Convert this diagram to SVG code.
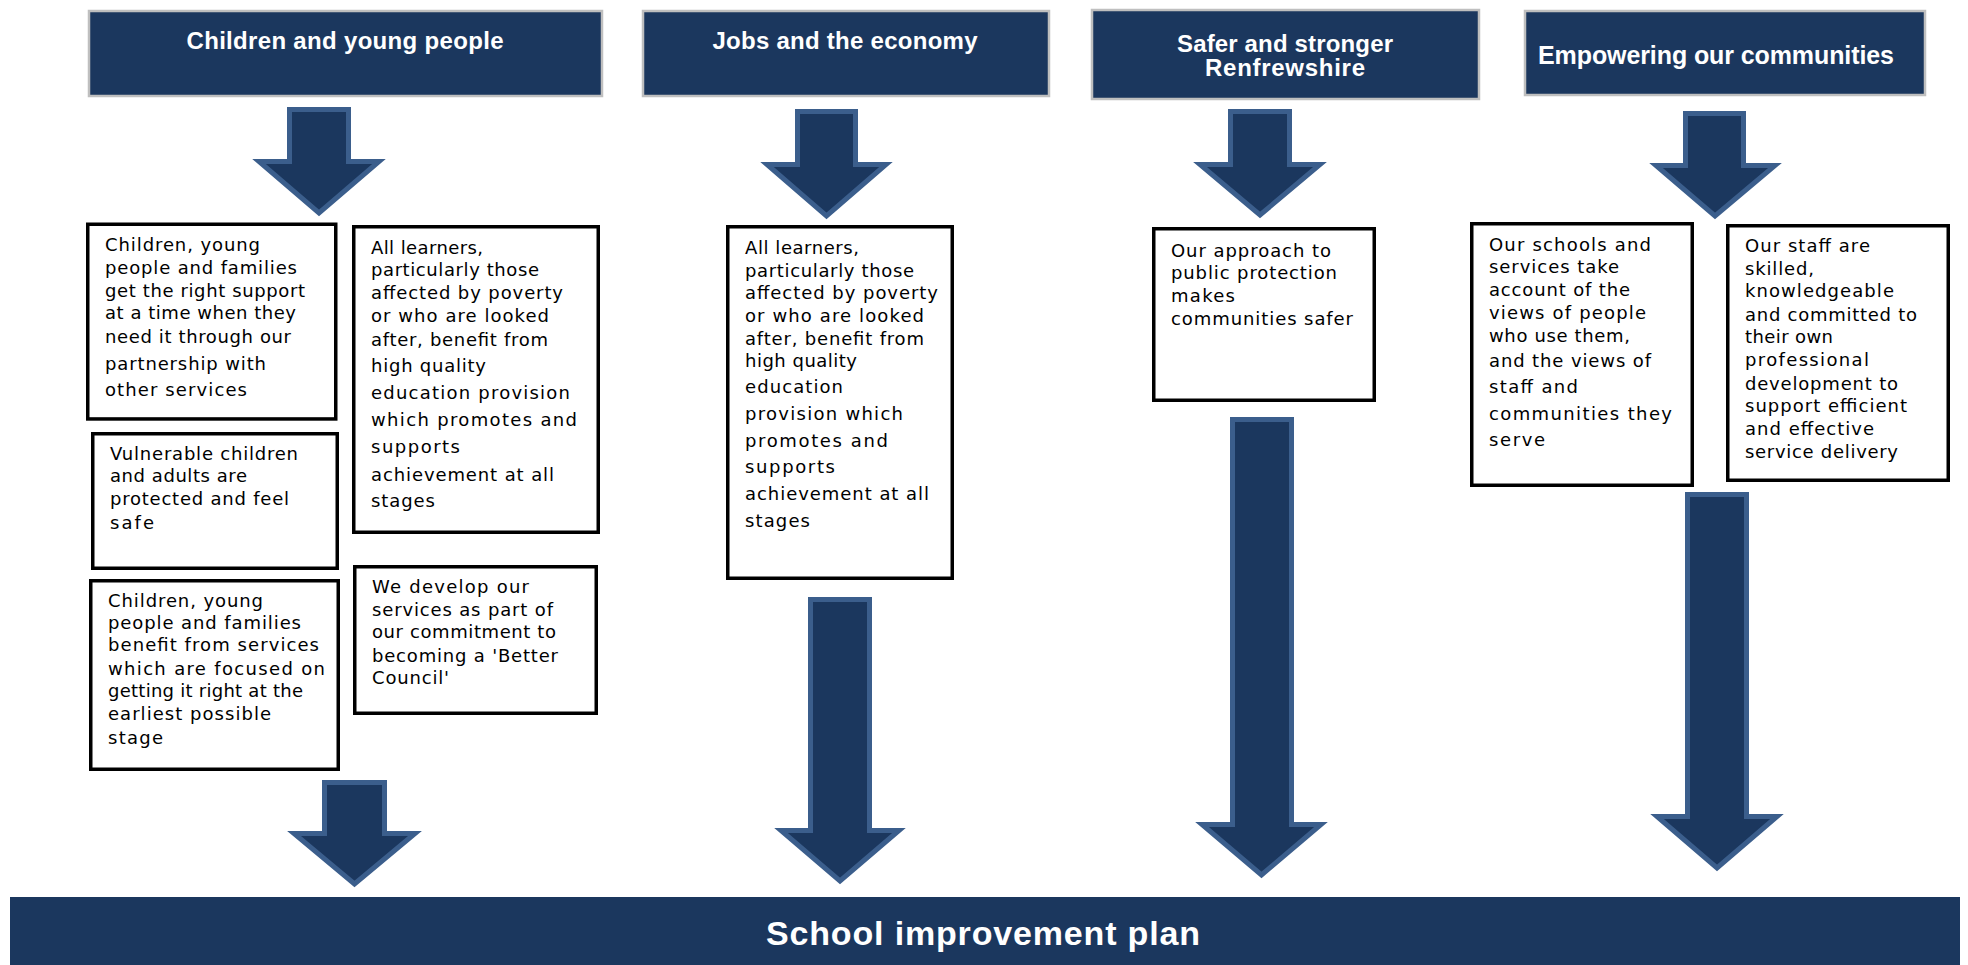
<svg xmlns="http://www.w3.org/2000/svg" width="1968" height="965" viewBox="0 0 1968 965">
  <style>
    .hdr rect { fill: #1B375E; stroke: #BFBFBF; stroke-width: 2.5; }
    .hdr text { font-family: "Liberation Sans", Arial, sans-serif; font-weight: bold; fill: #FFFFFF; text-anchor: middle; font-size: 24px; }
    .box rect { fill: #FFFFFF; stroke: #000000; stroke-width: 3.5; }
    .box text { font-family: "DejaVu Sans", Verdana, sans-serif; font-size: 18px; fill: #000000; }
    .arrow { fill: #1B375E; stroke: #3B5E8C; stroke-width: 5; stroke-linejoin: miter; }
    .plan rect { fill: #1B375E; }
    .plan text { font-family: "Liberation Sans", Arial, sans-serif; font-weight: bold; font-size: 34px; fill: #FFFFFF; text-anchor: middle; }
  </style>

  <rect width="1968" height="965" fill="#FFFFFF"/>

  <!-- Outcome headings -->
  <g id="head-children" class="hdr">
    <rect x="89" y="11" width="513" height="85"/>
    <text x="345" y="49" textLength="317">Children and young people</text>
  </g>
  <g id="head-jobs" class="hdr">
    <rect x="643" y="11" width="406" height="85"/>
    <text x="845" y="49" textLength="265">Jobs and the economy</text>
  </g>
  <g id="head-safer" class="hdr">
    <rect x="1092" y="10" width="387" height="89"/>
    <text x="1285" y="52" textLength="216">Safer and stronger</text>
    <text x="1285" y="76" textLength="160">Renfrewshire</text>
  </g>
  <g id="head-empowering" class="hdr">
    <rect x="1525" y="11" width="400" height="84"/>
    <text x="1716" y="64" textLength="356" style="font-size:25px">Empowering our communities</text>
  </g>

  <!-- Children and young people outcomes -->
  <g id="cyp-support" class="box">
    <rect x="87.75" y="224.25" width="248" height="194.7"/>
    <text x="105" y="251" textLength="155">Children, young</text>
    <text x="105" y="274" textLength="192">people and families</text>
    <text x="105" y="297" textLength="200">get the right support</text>
    <text x="105" y="319" textLength="191">at a time when they</text>
    <text x="105" y="343" textLength="186">need it through our</text>
    <text x="105" y="370" textLength="161">partnership with</text>
    <text x="105" y="396" textLength="142">other services</text>
  </g>
  <g id="cyp-learners" class="box">
    <rect x="353.75" y="226.75" width="244.5" height="305.5"/>
    <text x="371" y="254" textLength="112">All learners,</text>
    <text x="371" y="276" textLength="168">particularly those</text>
    <text x="371" y="299" textLength="192">affected by poverty</text>
    <text x="371" y="322" textLength="178">or who are looked</text>
    <text x="371" y="346" textLength="177">after, benefit from</text>
    <text x="371" y="372" textLength="115">high quality</text>
    <text x="371" y="399" textLength="199">education provision</text>
    <text x="371" y="426" textLength="206">which promotes and</text>
    <text x="371" y="453" textLength="89">supports</text>
    <text x="371" y="481" textLength="183">achievement at all</text>
    <text x="371" y="507" textLength="64">stages</text>
  </g>
  <g id="cyp-vulnerable" class="box">
    <rect x="92.75" y="433.75" width="244.5" height="134.5"/>
    <text x="110" y="460" textLength="188">Vulnerable children</text>
    <text x="110" y="482" textLength="137">and adults are</text>
    <text x="110" y="505" textLength="179">protected and feel</text>
    <text x="110" y="529" textLength="44">safe</text>
  </g>
  <g id="cyp-early" class="box">
    <rect x="90.75" y="580.75" width="247.5" height="188.5"/>
    <text x="108" y="607" textLength="155">Children, young</text>
    <text x="108" y="629" textLength="193">people and families</text>
    <text x="108" y="651" textLength="211">benefit from services</text>
    <text x="108" y="675" textLength="217">which are focused on</text>
    <text x="108" y="697" textLength="195">getting it right at the</text>
    <text x="108" y="720" textLength="163">earliest possible</text>
    <text x="108" y="744" textLength="55">stage</text>
  </g>
  <g id="cyp-council" class="box">
    <rect x="354.75" y="566.75" width="241.5" height="146.5"/>
    <text x="372" y="593" textLength="157">We develop our</text>
    <text x="372" y="616" textLength="181">services as part of</text>
    <text x="372" y="638" textLength="184">our commitment to</text>
    <text x="372" y="662" textLength="186">becoming a 'Better</text>
    <text x="372" y="684" textLength="77">Council'</text>
  </g>

  <!-- Jobs and the economy outcome -->
  <g id="jobs-learners" class="box">
    <rect x="727.75" y="226.75" width="224.5" height="351.5"/>
    <text x="745" y="254" textLength="114">All learners,</text>
    <text x="745" y="277" textLength="169">particularly those</text>
    <text x="745" y="299" textLength="193">affected by poverty</text>
    <text x="745" y="322" textLength="179">or who are looked</text>
    <text x="745" y="345" textLength="179">after, benefit from</text>
    <text x="745" y="367" textLength="112">high quality</text>
    <text x="745" y="393" textLength="98">education</text>
    <text x="745" y="420" textLength="158">provision which</text>
    <text x="745" y="447" textLength="143">promotes and</text>
    <text x="745" y="473" textLength="90">supports</text>
    <text x="745" y="500" textLength="184">achievement at all</text>
    <text x="745" y="527" textLength="65">stages</text>
  </g>

  <!-- Safer and stronger outcome -->
  <g id="safer-protection" class="box">
    <rect x="1153.75" y="228.75" width="220.5" height="171.5"/>
    <text x="1171" y="257" textLength="160">Our approach to</text>
    <text x="1171" y="279" textLength="166">public protection</text>
    <text x="1171" y="302" textLength="64">makes</text>
    <text x="1171" y="325" textLength="182">communities safer</text>
  </g>

  <!-- Empowering our communities outcomes -->
  <g id="emp-views" class="box">
    <rect x="1471.75" y="223.75" width="220.5" height="261.5"/>
    <text x="1489" y="251" textLength="162">Our schools and</text>
    <text x="1489" y="273" textLength="130">services take</text>
    <text x="1489" y="296" textLength="141">account of the</text>
    <text x="1489" y="319" textLength="157">views of people</text>
    <text x="1489" y="342" textLength="141">who use them,</text>
    <text x="1489" y="367" textLength="162">and the views of</text>
    <text x="1489" y="393" textLength="89">staff and</text>
    <text x="1489" y="420" textLength="183">communities they</text>
    <text x="1489" y="446" textLength="56">serve</text>
  </g>
  <g id="emp-staff" class="box">
    <rect x="1727.75" y="225.75" width="220.5" height="254.5"/>
    <text x="1745" y="252" textLength="125">Our staff are</text>
    <text x="1745" y="275" textLength="69">skilled,</text>
    <text x="1745" y="297" textLength="149">knowledgeable</text>
    <text x="1745" y="321" textLength="172">and committed to</text>
    <text x="1745" y="343" textLength="88">their own</text>
    <text x="1745" y="366" textLength="124">professional</text>
    <text x="1745" y="390" textLength="153">development to</text>
    <text x="1745" y="412" textLength="162">support efficient</text>
    <text x="1745" y="435" textLength="129">and effective</text>
    <text x="1745" y="458" textLength="153">service delivery</text>
  </g>

  <!-- Target -->
  <g id="school-plan" class="plan">
    <rect x="10" y="897" width="1950" height="68"/>
    <text x="983" y="945" textLength="434">School improvement plan</text>
  </g>

  <!-- Block arrows -->
  <g id="connectors">
    <polygon class="arrow" points="289.5,109.5 348.5,109.5 348.5,161.5 379,161.5 319,213 259,161.5 289.5,161.5"/>
    <polygon class="arrow" points="797.5,111.5 855.5,111.5 855.5,164.5 886,164.5 826.5,216 767,164.5 797.5,164.5"/>
    <polygon class="arrow" points="1230.5,111.5 1289.5,111.5 1289.5,164.5 1320,164.5 1260,215 1200,164.5 1230.5,164.5"/>
    <polygon class="arrow" points="1685.5,113.5 1743.5,113.5 1743.5,165.5 1775,165.5 1715,216 1656,165.5 1685.5,165.5"/>
    <polygon class="arrow" points="324.5,782.5 384.5,782.5 384.5,833.5 415,833.5 354.5,884 294,833.5 324.5,833.5"/>
    <polygon class="arrow" points="810.5,599.5 869.5,599.5 869.5,830.5 899,830.5 840,881 781,830.5 810.5,830.5"/>
    <polygon class="arrow" points="1232.5,419.5 1291.5,419.5 1291.5,824.5 1321,824.5 1261.5,875 1202,824.5 1232.5,824.5"/>
    <polygon class="arrow" points="1687.5,494.5 1746.5,494.5 1746.5,816.5 1777,816.5 1717,868 1657,816.5 1687.5,816.5"/>
  </g>
</svg>
